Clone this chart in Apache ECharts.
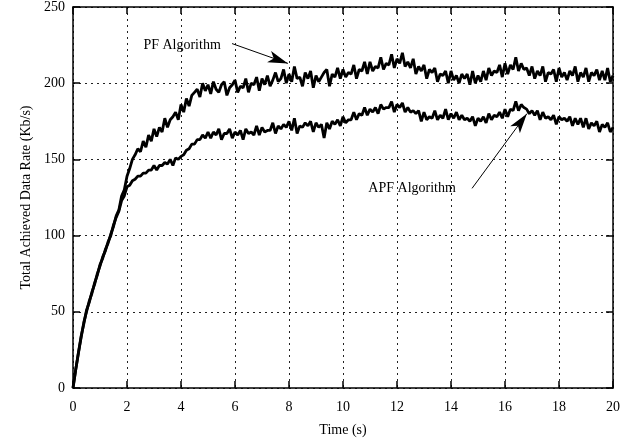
<!DOCTYPE html>
<html>
<head>
<meta charset="utf-8">
<script src="https://cdn.jsdelivr.net/npm/echarts@6/dist/echarts.min.js"></script>
<style>
  html, body { margin: 0; padding: 0; background: #fff; }
  #chart { width: 638px; height: 442px; }
</style>
</head>
<body>
<div id="chart"></div>
<script>
// time samples (s)
var times = [
  0, 0.1, 0.2, 0.3, 0.4, 0.5, 0.6, 0.7, 0.8, 0.9,
  1, 1.1, 1.2, 1.3, 1.4, 1.5, 1.6, 1.7, 1.8, 1.9,
  2, 2.1, 2.2, 2.3, 2.4, 2.5, 2.6, 2.7, 2.8, 2.9,
  3, 3.1, 3.2, 3.3, 3.4, 3.5, 3.6, 3.7, 3.8, 3.9,
  4, 4.1, 4.2, 4.3, 4.4, 4.5, 4.6, 4.7, 4.8, 4.9,
  5, 5.1, 5.2, 5.3, 5.4, 5.5, 5.6, 5.7, 5.8, 5.9,
  6, 6.1, 6.2, 6.3, 6.4, 6.5, 6.6, 6.7, 6.8, 6.9,
  7, 7.1, 7.2, 7.3, 7.4, 7.5, 7.6, 7.7, 7.8, 7.9,
  8, 8.1, 8.2, 8.3, 8.4, 8.5, 8.6, 8.7, 8.8, 8.9,
  9, 9.1, 9.2, 9.3, 9.4, 9.5, 9.6, 9.7, 9.8, 9.9,
  10, 10.1, 10.2, 10.3, 10.4, 10.5, 10.6, 10.7, 10.8, 10.9,
  11, 11.1, 11.2, 11.3, 11.4, 11.5, 11.6, 11.7, 11.8, 11.9,
  12, 12.1, 12.2, 12.3, 12.4, 12.5, 12.6, 12.7, 12.8, 12.9,
  13, 13.1, 13.2, 13.3, 13.4, 13.5, 13.6, 13.7, 13.8, 13.9,
  14, 14.1, 14.2, 14.3, 14.4, 14.5, 14.6, 14.7, 14.8, 14.9,
  15, 15.1, 15.2, 15.3, 15.4, 15.5, 15.6, 15.7, 15.8, 15.9,
  16, 16.1, 16.2, 16.3, 16.4, 16.5, 16.6, 16.7, 16.8, 16.9,
  17, 17.1, 17.2, 17.3, 17.4, 17.5, 17.6, 17.7, 17.8, 17.9,
  18, 18.1, 18.2, 18.3, 18.4, 18.5, 18.6, 18.7, 18.8, 18.9,
  19, 19.1, 19.2, 19.3, 19.4, 19.5, 19.6, 19.7, 19.8, 19.9,
  20
];

// PF algorithm (Kb/s)
var pfRate = [
  0, 12, 23, 33, 43, 50, 57, 62, 69, 74,
  81, 85, 91, 95, 101, 106, 113, 117, 126, 130,
  139, 144, 150, 153, 157, 155, 162, 158, 166, 162,
  170, 165, 171, 168, 177, 171, 176, 178, 181, 176,
  186, 181, 190, 185, 192, 194, 196, 191, 200, 195,
  199, 193, 201, 196, 194, 199, 201, 192, 197, 199,
  202, 194, 198, 197, 203, 194, 200, 199, 204, 195,
  203, 199, 205, 198, 202, 207, 201, 203, 209, 200,
  206, 201, 211, 203, 204, 198, 207, 203, 208, 197,
  205, 201, 204, 207, 209, 198, 206, 204, 210, 203,
  209, 204, 207, 206, 212, 203, 209, 208, 214, 206,
  214, 208, 211, 210, 217, 209, 213, 212, 219, 210,
  216, 213, 220, 211, 214, 210, 216, 206, 211, 208,
  212, 203, 209, 207, 210, 201, 206, 205, 208, 200,
  208, 202, 205, 200, 206, 203, 206, 199, 208, 200,
  205, 201, 208, 202, 210, 205, 208, 207, 212, 204,
  213, 206, 212, 209, 217, 208, 213, 209, 210, 205,
  211, 203, 208, 205, 211, 201, 207, 206, 209, 201,
  210, 204, 207, 202, 208, 205, 211, 201, 207, 204,
  210, 201, 207, 205, 209, 202, 208, 202, 210, 201,
  205
];

// APF algorithm (Kb/s)
var apfRate = [
  0, 12, 23, 34, 42, 51, 56, 63, 68, 75,
  80, 86, 90, 96, 100, 107, 112, 116, 123, 126,
  132, 133, 136, 137, 139, 139, 141, 141, 143, 143,
  146, 143, 146, 146, 148, 147, 150, 146, 151, 150,
  152, 153, 156, 157, 160, 160, 163, 163, 166, 164,
  168, 164, 168, 166, 170, 163, 167, 167, 170, 164,
  168, 166, 169, 163, 170, 167, 168, 166, 172, 166,
  171, 168, 169, 169, 174, 167, 172, 170, 173, 171,
  175, 169, 177, 167, 172, 171, 174, 172, 175, 168,
  174, 171, 173, 164, 174, 170, 175, 173, 176, 172,
  178, 174, 176, 176, 181, 176, 180, 179, 184, 179,
  183, 181, 184, 180, 186, 183, 184, 184, 188, 181,
  186, 184, 187, 181, 184, 181, 182, 180, 182, 175,
  181, 176, 178, 177, 182, 176, 179, 177, 183, 176,
  180, 177, 181, 176, 179, 176, 177, 175, 178, 172,
  177, 175, 178, 174, 180, 176, 179, 178, 181, 177,
  183, 178, 183, 182, 188, 182, 186, 184, 183, 180,
  182, 179, 182, 176, 181, 177, 178, 176, 179, 173,
  178, 176, 177, 175, 178, 172, 177, 173, 177, 171,
  177, 170, 174, 172, 175, 168, 173, 171, 174, 168,
  171
];

var xTicks = [0, 2, 4, 6, 8, 10, 12, 14, 16, 18, 20];
var yTicks = [0, 50, 100, 150, 200, 250];

// annotation text and arrow (tail -> head) in data coordinates
var pfNote = { text: 'PF Algorithm', at: [4.04, 225] };
var pfArrow = [[5.89, 226], [7.96, 213]];
var apfNote = { text: 'APF Algorithm', at: [12.56, 131] };
var apfArrow = [[14.78, 131], [16.81, 180]];

var FONT = 'Liberation Serif';

function pairs(vals) {
  return times.map(function (t, i) { return [t, vals[i]]; });
}

function noteMark(note) {
  return {
    silent: true,
    symbol: 'rect',
    symbolSize: 1,
    itemStyle: { color: 'rgba(0,0,0,0)' },
    label: {
      show: true, position: 'inside', formatter: '{b}',
      color: '#000', fontFamily: FONT, fontSize: 14
    },
    data: [{ name: note.text, coord: note.at }]
  };
}

function arrowMark(arr) {
  return {
    silent: true,
    symbol: ['none', 'arrow'],
    symbolSize: [9, 20],
    lineStyle: { color: '#000', width: 1, type: 'solid' },
    label: { show: false },
    data: [[{ coord: arr[0] }, { coord: arr[1] }]]
  };
}

function axisLine() {
  return { show: true, onZero: false, lineStyle: { color: '#000', width: 1.5 } };
}
function tickIn() {
  return { show: true, inside: true, length: 7, lineStyle: { color: '#000', width: 1.5 } };
}
var splitStyle = { show: true, lineStyle: { color: '#222', width: 1, type: [2, 4] } };

var option = {
  animation: false,
  backgroundColor: '#fff',
  grid: { left: 73, right: 25, top: 7, bottom: 54 },
  xAxis: [
    {
      type: 'value',
      min: xTicks[0], max: xTicks[xTicks.length - 1], interval: xTicks[1] - xTicks[0],
      name: 'Time (s)', nameLocation: 'middle', nameGap: 35,
      nameTextStyle: { color: '#000', fontFamily: FONT, fontSize: 14 },
      axisLine: axisLine(), axisTick: tickIn(),
      axisLabel: { color: '#000', fontFamily: FONT, fontSize: 14, margin: 12 },
      splitLine: splitStyle
    },
    {
      type: 'value', position: 'top',
      min: xTicks[0], max: xTicks[xTicks.length - 1], interval: xTicks[1] - xTicks[0],
      axisLine: axisLine(), axisTick: tickIn(),
      axisLabel: { show: false }, splitLine: { show: false }
    }
  ],
  yAxis: [
    {
      type: 'value',
      min: yTicks[0], max: yTicks[yTicks.length - 1], interval: yTicks[1] - yTicks[0],
      name: 'Total Achieved Data Rate (Kb/s)', nameLocation: 'middle', nameGap: 31,
      nameTextStyle: { color: '#000', fontFamily: FONT, fontSize: 14 },
      axisLine: axisLine(), axisTick: tickIn(),
      axisLabel: { color: '#000', fontFamily: FONT, fontSize: 14, margin: 8 },
      splitLine: splitStyle
    },
    {
      type: 'value', position: 'right',
      min: yTicks[0], max: yTicks[yTicks.length - 1], interval: yTicks[1] - yTicks[0],
      axisLine: axisLine(), axisTick: tickIn(),
      axisLabel: { show: false }, splitLine: { show: false }
    }
  ],
  series: [
    {
      name: 'PF Algorithm',
      type: 'line',
      data: pairs(pfRate),
      showSymbol: false,
      lineStyle: { color: '#000', width: 2.8 },
      markPoint: noteMark(pfNote),
      markLine: arrowMark(pfArrow)
    },
    {
      name: 'APF Algorithm',
      type: 'line',
      data: pairs(apfRate),
      showSymbol: false,
      lineStyle: { color: '#000', width: 2.8 },
      markPoint: noteMark(apfNote),
      markLine: arrowMark(apfArrow)
    }
  ]
};

var chart = echarts.init(document.getElementById('chart'));
chart.setOption(option);
</script>
</body>
</html>
